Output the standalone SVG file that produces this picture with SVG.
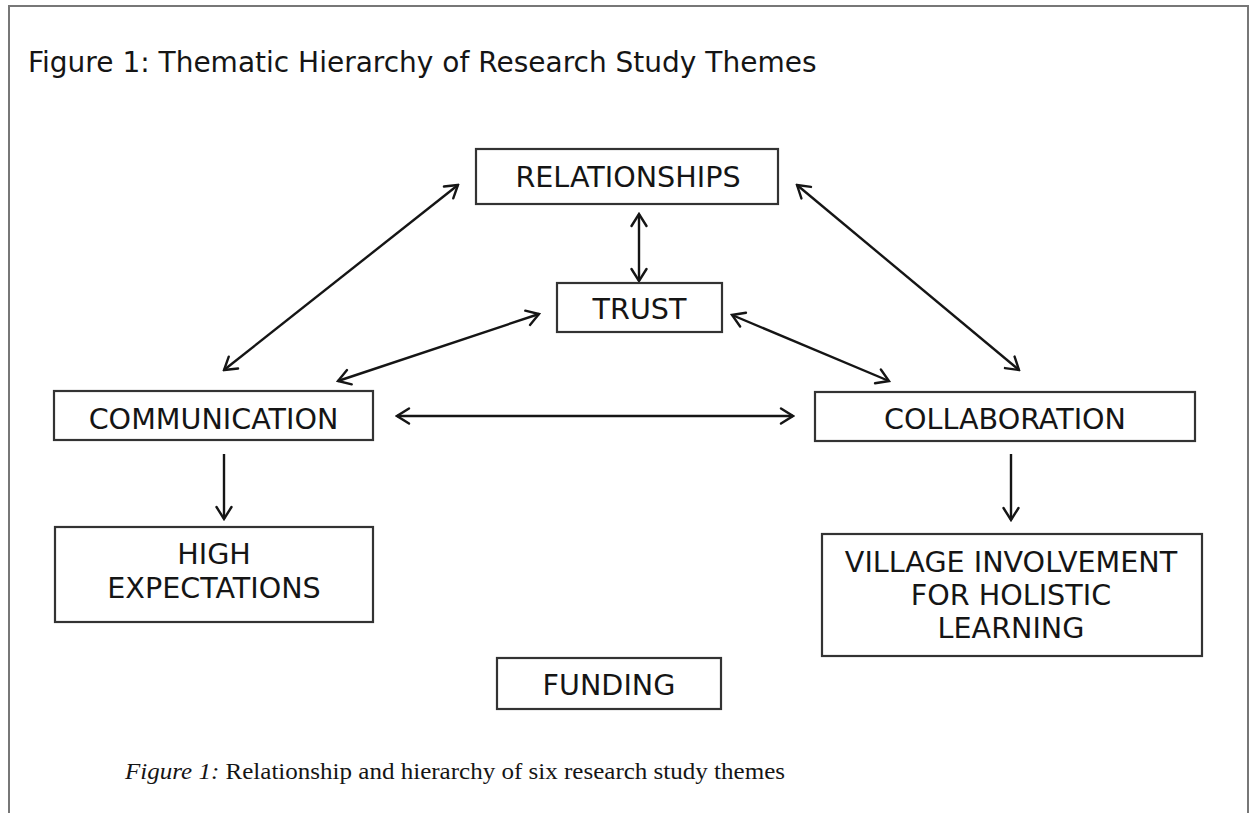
<svg xmlns="http://www.w3.org/2000/svg" width="1249" height="813" viewBox="0 0 1249 813">
<defs>
<style>
.box{fill:#fff;stroke:#333;stroke-width:2.2}
.lbl{font-family:"DejaVu Sans","Verdana",sans-serif;font-size:28.6px;fill:#151515;text-anchor:middle}
.con{stroke:#151515;stroke-width:2.4;fill:none}
.title{font-family:"DejaVu Sans","Verdana",sans-serif;font-size:28px;fill:#151515}
.cap{font-family:"Liberation Serif","Times New Roman",serif;font-size:24px;fill:#151515}
</style>
<marker id="ah" viewBox="-15 -10 17 20" refX="0" refY="0" markerWidth="17" markerHeight="20" markerUnits="userSpaceOnUse" orient="auto-start-reverse">
<path d="M-12,-7.5 L0,0 L-12,7.5" fill="none" stroke="#151515" stroke-width="2.4" stroke-linecap="round" stroke-linejoin="miter"/>
</marker>
</defs>
<rect x="0" y="0" width="1249" height="813" fill="#fff"/>
<path d="M9,813 V6 H1248 V813" fill="none" stroke="#777" stroke-width="2"/>
<text class="title" x="28" y="72">Figure 1: Thematic Hierarchy of Research Study Themes</text>

<g id="connectors">
<line class="con" x1="224" y1="370" x2="458" y2="185" marker-start="url(#ah)" marker-end="url(#ah)"/>
<line class="con" x1="338" y1="381" x2="539" y2="314" marker-start="url(#ah)" marker-end="url(#ah)"/>
<line class="con" x1="397" y1="416" x2="793" y2="416" marker-start="url(#ah)" marker-end="url(#ah)"/>
<line class="con" x1="797" y1="185" x2="1019" y2="370" marker-start="url(#ah)" marker-end="url(#ah)"/>
<line class="con" x1="732" y1="315" x2="889" y2="381" marker-start="url(#ah)" marker-end="url(#ah)"/>
<line class="con" x1="639" y1="214" x2="639" y2="281" marker-start="url(#ah)" marker-end="url(#ah)"/>
<line class="con" x1="224" y1="454" x2="224" y2="519" marker-end="url(#ah)"/>
<line class="con" x1="1011" y1="454" x2="1011" y2="520" marker-end="url(#ah)"/>
</g>

<g id="relationships">
<rect class="box" x="476" y="149" width="302" height="55"/>
<text class="lbl" x="628" y="187">RELATIONSHIPS</text>
</g>
<g id="trust">
<rect class="box" x="557" y="283" width="165" height="49"/>
<text class="lbl" x="639.5" y="319">TRUST</text>
</g>
<g id="communication">
<rect class="box" x="54" y="391" width="319" height="49"/>
<text class="lbl" x="213.5" y="429">COMMUNICATION</text>
</g>
<g id="collaboration">
<rect class="box" x="815" y="392" width="380" height="49"/>
<text class="lbl" x="1005" y="429">COLLABORATION</text>
</g>
<g id="high-expectations">
<rect class="box" x="55" y="527" width="318" height="95"/>
<text class="lbl" x="214" y="564">HIGH</text>
<text class="lbl" x="214" y="598">EXPECTATIONS</text>
</g>
<g id="village-involvement">
<rect class="box" x="822" y="534" width="380" height="122"/>
<text class="lbl" x="1011" y="572">VILLAGE INVOLVEMENT</text>
<text class="lbl" x="1011" y="605">FOR HOLISTIC</text>
<text class="lbl" x="1011" y="638">LEARNING</text>
</g>
<g id="funding">
<rect class="box" x="497" y="658" width="224" height="51"/>
<text class="lbl" x="609" y="695">FUNDING</text>
</g>

<text class="cap" x="125" y="779" textLength="660" lengthAdjust="spacingAndGlyphs"><tspan font-style="italic">Figure 1:</tspan> Relationship and hierarchy of six research study themes</text>
</svg>
